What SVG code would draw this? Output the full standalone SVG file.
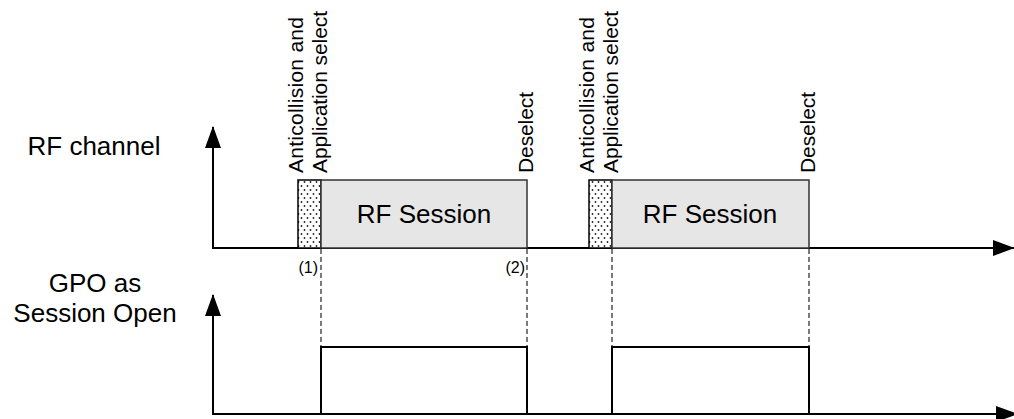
<svg xmlns="http://www.w3.org/2000/svg" width="1014" height="419" viewBox="0 0 1014 419">
<style>
.lbl{font-family:"Liberation Sans",Arial,sans-serif;fill:#000}
.big{font-size:26px}
.rot{font-size:21px}
.sm{font-size:16px}
.axis{stroke:#000;stroke-width:2;fill:none}
.dash{stroke:#333;stroke-width:1.3;stroke-dasharray:5,3;fill:none}
.sess{fill:#e6e6e6;stroke:#333;stroke-width:1.5}
.hatch{fill:url(#dots);stroke:#000;stroke-width:1.5}
.pulse{fill:none;stroke:#000;stroke-width:2}
</style>
<defs>
<pattern id="dots" width="6" height="8" patternUnits="userSpaceOnUse">
<rect width="6" height="8" fill="#fff"/>
<circle cx="1.5" cy="2" r="0.9" fill="#222"/>
<circle cx="4.5" cy="6" r="0.9" fill="#222"/>
</pattern>
<marker id="ah" markerWidth="22" markerHeight="16" refX="21" refY="8" orient="auto" markerUnits="userSpaceOnUse">
<path d="M0,0 L22,8 L0,16 Z" fill="#000"/>
</marker>
</defs>
<g id="labels">
<text class="lbl big" x="94" y="155" text-anchor="middle">RF channel</text>
<text class="lbl big" x="95" y="292" text-anchor="middle">GPO as</text>
<text class="lbl big" x="95" y="322" text-anchor="middle">Session Open</text>
</g>
<g id="connectors">
<line class="axis" x1="213" y1="249" x2="213" y2="127" marker-end="url(#ah)"/>
<line class="axis" x1="212" y1="248" x2="1014" y2="248" marker-end="url(#ah)"/>
<line class="axis" x1="213" y1="415" x2="213" y2="295" marker-end="url(#ah)"/>
<line class="axis" x1="212" y1="414" x2="1017" y2="414" stroke-width="2.5" marker-end="url(#ah)"/>
<line class="dash" x1="321" y1="249" x2="321" y2="347"/>
<line class="dash" x1="527" y1="249" x2="527" y2="347"/>
<line class="dash" x1="612" y1="249" x2="612" y2="347"/>
<line class="dash" x1="809" y1="249" x2="809" y2="347"/>
</g>
<g id="session1">
<rect class="hatch" x="298" y="180" width="23" height="68"/>
<rect class="sess" x="321" y="180" width="206" height="68"/>
<text class="lbl big" x="424" y="223" text-anchor="middle">RF Session</text>
<text class="lbl rot" transform="translate(303,173) rotate(-90)" textLength="156">Anticollision and</text>
<text class="lbl rot" transform="translate(327,173) rotate(-90)" textLength="162">Application select</text>
<text class="lbl rot" transform="translate(533,173) rotate(-90)" textLength="81">Deselect</text>
<text class="lbl sm" x="318" y="273" text-anchor="end">(1)</text>
<text class="lbl sm" x="525" y="273" text-anchor="end">(2)</text>
<polyline class="pulse" points="321,414 321,347 527,347 527,414"/>
</g>
<g id="session2">
<rect class="hatch" x="589" y="180" width="23" height="68"/>
<rect class="sess" x="612" y="180" width="197" height="68"/>
<text class="lbl big" x="710" y="223" text-anchor="middle">RF Session</text>
<text class="lbl rot" transform="translate(594,173) rotate(-90)" textLength="156">Anticollision and</text>
<text class="lbl rot" transform="translate(618,173) rotate(-90)" textLength="162">Application select</text>
<text class="lbl rot" transform="translate(815,173) rotate(-90)" textLength="81">Deselect</text>
<polyline class="pulse" points="612,414 612,347 809,347 809,414"/>
</g>
</svg>
